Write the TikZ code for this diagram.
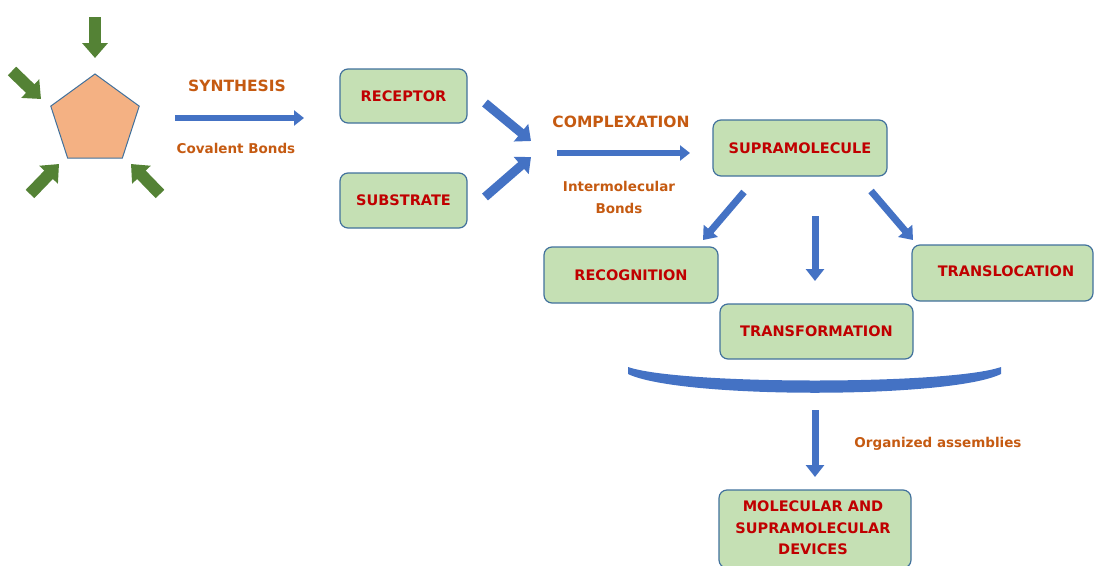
\documentclass[tikz,border=0pt]{standalone}
\usepackage{fontspec}
\setmainfont{DejaVu Sans}
\usepackage{tikz}
\usetikzlibrary{arrows.meta}
\usetikzlibrary{shapes.geometric}

\definecolor{boxfill}{HTML}{C5E0B4}
\definecolor{boxline}{HTML}{41719C}
\definecolor{boxtext}{HTML}{C00000}
\definecolor{labeltext}{HTML}{C55A11}
\definecolor{flowblue}{HTML}{4472C4}
\definecolor{leafgreen}{HTML}{548235}
\definecolor{salmon}{HTML}{F4B183}

\tikzset{
	stagebox/.style={draw=boxline, line width=1.2pt, fill=boxfill, rounded corners=8pt,
		text=boxtext, font=\fontsize{14.5}{21}\selectfont\bfseries, align=center, inner sep=0pt},
	steplabel/.style={text=labeltext, font=\fontsize{15.5}{21}\selectfont\bfseries, align=center},
	smalllabel/.style={text=labeltext, font=\fontsize{13.5}{22}\selectfont\bfseries, align=center},
	bluearrow/.style={draw=flowblue, line width=7pt, -{Triangle[length=12pt,width=18pt]}},
	thinarrow/.style={draw=flowblue, line width=6pt, -{Triangle[length=10pt,width=15pt]}},
	fatarrow/.style={draw=flowblue, line width=9pt, -{Triangle[length=13pt,width=22pt]}},
	greenarrow/.style={draw=leafgreen, line width=12pt, -{Triangle[length=15pt,width=25pt]}}
}

\begin{document}
\begin{tikzpicture}[x=1pt, y=-1pt]
	\useasboundingbox (0,0) rectangle (1094,565);

	% starting molecule
	\node [regular polygon, regular polygon sides=5, minimum size=93pt, inner sep=0pt,
		fill=salmon, draw=boxline, line width=1pt] (core) at (95,120.5) {};
	\coordinate (topin) at (95,17);   \coordinate (topout) at (95,58);
	\coordinate (ulin) at (12,71);    \coordinate (ulout) at (41,99);
	\coordinate (blin) at (30,194);   \coordinate (blout) at (59,164);
	\coordinate (brin) at (160,194);  \coordinate (brout) at (131,164);
	\draw [greenarrow] (topin) -- (topout);
	\draw [greenarrow] (ulin) -- (ulout);
	\draw [greenarrow] (blin) -- (blout);
	\draw [greenarrow] (brin) -- (brout);

	% synthesis
	\coordinate (synstart) at (175,118);
	\coordinate (synend) at (304,118);
	\draw [thinarrow] (synstart) -- (synend);
	\node [steplabel] (synthesis) at (237,86) {SYNTHESIS};
	\node [smalllabel] (covalent) at (236,148) {Covalent Bonds};

	% receptor and substrate
	\node [stagebox, minimum width=127pt, minimum height=54pt] (receptor) at (403.5,96) {RECEPTOR};
	\node [stagebox, minimum width=127pt, minimum height=55pt] (substrate) at (403.5,200.5) {SUBSTRATE};
	\coordinate (recout) at (485,103);
	\coordinate (subout) at (485,197);
	\coordinate (meetup) at (531,141);
	\coordinate (meetdown) at (531,157);
	\draw [fatarrow] (recout) -- (meetup);
	\draw [fatarrow] (subout) -- (meetdown);

	% complexation
	\coordinate (comstart) at (557,153);
	\coordinate (comend) at (690,153);
	\draw [thinarrow] (comstart) -- (comend);
	\node [steplabel] (complexation) at (621,122) {COMPLEXATION};
	\node [smalllabel] (intermol) at (619,197) {Intermolecular\\Bonds};

	% supramolecule and its functions
	\node [stagebox, minimum width=174pt, minimum height=56pt] (supra) at (800,148) {SUPRAMOLECULE};
	\node [stagebox, minimum width=174pt, minimum height=56pt] (recognition) at (631,275) {RECOGNITION};
	\node [stagebox, minimum width=193pt, minimum height=55pt] (transformation) at (816.5,331.5) {TRANSFORMATION};
	\node [stagebox, minimum width=181pt, minimum height=56pt] (translocation) at (1002.5,273) {};
	\node [text=boxtext, font=\fontsize{14.5}{21}\selectfont\bfseries] (transltext) at (1006,271) {TRANSLOCATION};
	\coordinate (leftfrom) at (744,192);  \coordinate (leftto) at (703,240);
	\coordinate (midfrom) at (815,216);   \coordinate (midto) at (815,281);
	\coordinate (rightfrom) at (871,191); \coordinate (rightto) at (913,240);
	\draw [bluearrow] (leftfrom) -- (leftto);
	\draw [bluearrow] (midfrom) -- (midto);
	\draw [bluearrow] (rightfrom) -- (rightto);

	% bracket
	\fill [flowblue] (628,367) .. controls (680,385) and (950,385) .. (1001,367)
		-- (1001,374) .. controls (950,399) and (680,399) .. (628,374) -- cycle;

	% devices
	\coordinate (asmfrom) at (815,410);
	\coordinate (asmto) at (815,477);
	\draw [bluearrow] (asmfrom) -- (asmto);
	\node [smalllabel] (assemblies) at (938,444) {Organized assemblies};
	\node [stagebox, minimum width=192pt, minimum height=78pt] (devices) at (815,529) {};
	\node [text=boxtext, font=\fontsize{14.5}{21.5}\selectfont\bfseries, align=center] (devtext) at (813,528)
		{MOLECULAR AND\\SUPRAMOLECULAR\\DEVICES};
\end{tikzpicture}
\end{document}
